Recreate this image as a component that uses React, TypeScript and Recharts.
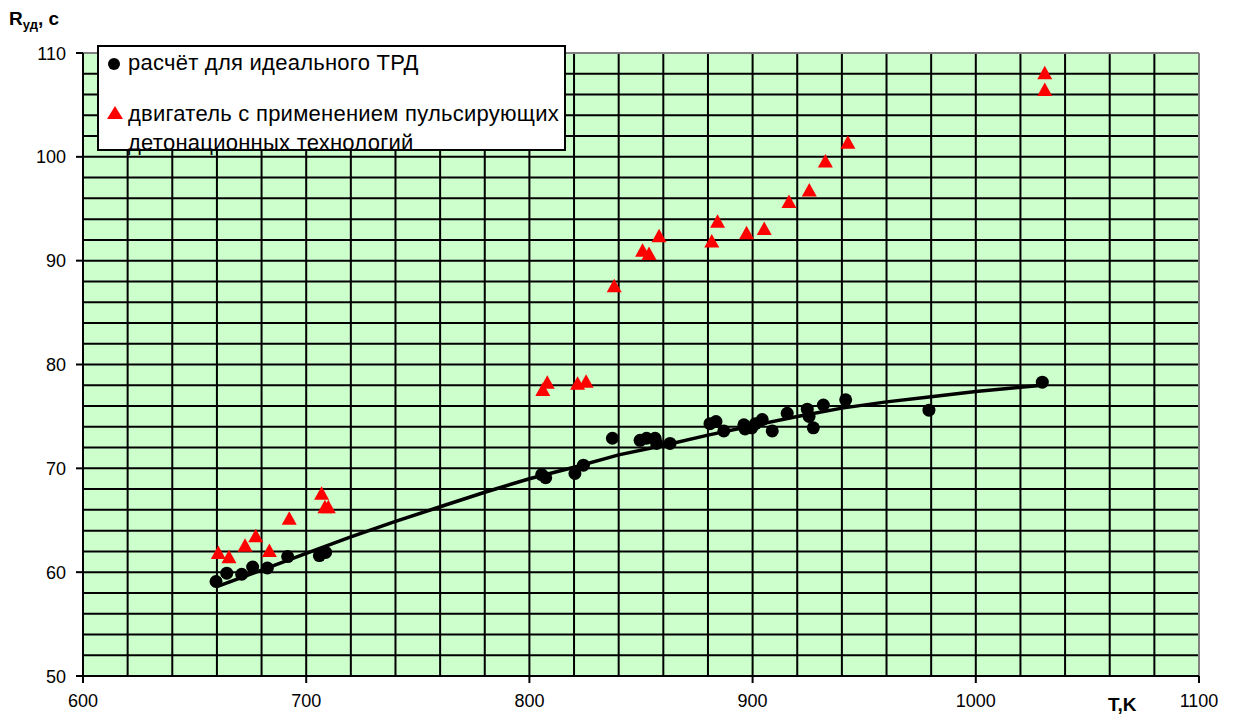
import React from "react";
import {
  ScatterChart,
  Scatter,
  XAxis,
  YAxis,
  CartesianGrid,
  ReferenceLine,
} from "recharts";

// расчёт для идеального ТРД
const idealT = [
  659.6, 664.4, 671.1, 676.0, 682.6, 691.7, 705.9, 708.7, 805.5, 807.3, 820.4,
  824.2, 837.2, 849.6, 852.5, 856.3, 857.0, 863.0, 880.9, 883.6, 887.1, 896.1,
  896.6, 899.6, 901.3, 904.3, 908.8, 915.5, 924.5, 925.3, 927.2, 931.7, 941.7,
  979.0, 1029.8,
];
const idealR = [
  59.1, 59.9, 59.8, 60.5, 60.4, 61.5, 61.6, 61.9, 69.4, 69.1, 69.5, 70.3, 72.9,
  72.7, 72.9, 72.9, 72.4, 72.4, 74.3, 74.5, 73.6, 74.2, 73.8, 73.9, 74.3, 74.7,
  73.6, 75.3, 75.7, 75.0, 73.9, 76.1, 76.6, 75.6, 78.3,
];

// двигатель с применением пульсирующих детонационных технологий
const pdeT = [
  660.6, 665.4, 672.6, 677.4, 683.5, 692.4, 706.9, 708.4, 709.9, 806.0, 808.0,
  821.6, 825.4, 838.0, 850.7, 853.6, 858.1, 881.7, 884.3, 897.3, 905.2, 916.3,
  925.4, 932.6, 942.7, 1030.9, 1030.9,
];
const pdeR = [
  61.8, 61.4, 62.5, 63.4, 62.0, 65.1, 67.5, 66.2, 66.2, 77.5, 78.2, 78.1, 78.3,
  87.5, 90.9, 90.6, 92.3, 91.8, 93.7, 92.6, 93.0, 95.6, 96.7, 99.5, 101.3,
  108.0, 106.4,
];

// trend line through the ideal points
const trendT = [
  660, 680, 700, 720, 740, 760, 780, 800, 820, 840, 860, 880, 900, 920, 940,
  960, 980, 1000, 1020, 1030,
];
const trendR = [
  58.6, 60.2, 61.8, 63.4, 64.9, 66.3, 67.7, 69.0, 70.1, 71.3, 72.2, 73.2, 74.1,
  75.0, 75.8, 76.4, 76.9, 77.4, 77.8, 78.0,
];

const xGridTicks = [
  600, 620, 640, 660, 680, 700, 720, 740, 760, 780, 800, 820, 840, 860, 880,
  900, 920, 940, 960, 980, 1000, 1020, 1040, 1060, 1080, 1100,
];
const yGridTicks = [
  50, 52, 54, 56, 58, 60, 62, 64, 66, 68, 70, 72, 74, 76, 78, 80, 82, 84, 86,
  88, 90, 92, 94, 96, 98, 100, 102, 104, 106, 108, 110,
];
const xLabels = [600, 700, 800, 900, 1000, 1100];
const yLabels = [50, 60, 70, 80, 90, 100, 110];

const legendLabels = [
  "расчёт для идеального ТРД",
  "двигатель с применением пульсирующих",
  "детонационных технологий",
];

const FONT = '"Liberation Sans", Arial, sans-serif';

const idealData = idealT.map((t, i) => ({ x: t, y: idealR[i] }));
const pdeData = pdeT.map((t, i) => ({ x: t, y: pdeR[i] }));
const trendData = trendT.map((t, i) => ({ x: t, y: trendR[i] }));

const Dot = (props: any) => (
  <circle cx={props.cx} cy={props.cy} r={6.5} fill="#000" />
);

const Triangle = (props: any) => {
  const { cx, cy } = props;
  return (
    <polygon
      points={`${cx},${cy - 8} ${cx - 7.5},${cy + 5.5} ${cx + 7.5},${cy + 5.5}`}
      fill="#ff0000"
    />
  );
};

const XTick = (props: any) => {
  const { x, y, payload } = props;
  if (!xLabels.includes(payload.value)) return <g />;
  return (
    <g>
      <line x1={x} y1={y} x2={x} y2={y + 7} stroke="#000" strokeWidth={2} />
      <text
        x={x}
        y={y + 31}
        textAnchor="middle"
        fontSize={18}
        fontFamily={FONT}
        fill="#000"
      >
        {payload.value}
      </text>
    </g>
  );
};

const YTick = (props: any) => {
  const { x, y, payload } = props;
  if (!yLabels.includes(payload.value)) return <g />;
  return (
    <g>
      <line x1={x - 7} y1={y} x2={x} y2={y} stroke="#000" strokeWidth={2} />
      <text
        x={x - 17}
        y={y + 6.5}
        textAnchor="end"
        fontSize={18}
        fontFamily={FONT}
        fill="#000"
      >
        {payload.value}
      </text>
    </g>
  );
};

export default function App() {
  return (
    <div
      style={{
        position: "absolute",
        left: 0,
        top: 0,
        width: 1238,
        height: 726,
        background: "#fff",
        fontFamily: FONT,
      }}
    >
      <ScatterChart
        width={1238}
        height={726}
        margin={{ top: 53, right: 39, bottom: 20, left: 23 }}
      >
        <CartesianGrid
          fill="#ccffcc"
          fillOpacity={1}
          stroke="#000"
          strokeWidth={2}
        />
        <XAxis
          type="number"
          dataKey="x"
          domain={[600, 1100]}
          ticks={xGridTicks}
          interval={0}
          allowDataOverflow
          axisLine={{ stroke: "#000", strokeWidth: 2 }}
          tickLine={false}
          tickSize={0}
          tickMargin={0}
          tick={<XTick />}
          height={30}
        />
        <YAxis
          type="number"
          dataKey="y"
          domain={[50, 110]}
          ticks={yGridTicks}
          interval={0}
          allowDataOverflow
          axisLine={{ stroke: "#000", strokeWidth: 2 }}
          tickLine={false}
          tickSize={0}
          tickMargin={0}
          tick={<YTick />}
          width={60}
        />
        <ReferenceLine y={110} stroke="#808080" strokeWidth={2} />
        <ReferenceLine x={1100} stroke="#808080" strokeWidth={2} />
        <Scatter
          data={trendData}
          line={{ stroke: "#000", strokeWidth: 3.5 }}
          shape={() => <g />}
          isAnimationActive={false}
        />
        <Scatter data={idealData} shape={<Dot />} isAnimationActive={false} />
        <Scatter data={pdeData} shape={<Triangle />} isAnimationActive={false} />
      </ScatterChart>

      {/* legend */}
      <div
        style={{
          position: "absolute",
          left: 97,
          top: 45,
          width: 465,
          height: 102,
          background: "#fff",
          border: "2px solid #000",
          fontSize: 22,
          letterSpacing: 0.25,
          color: "#000",
        }}
      >
        <svg
          style={{ position: "absolute", left: 8, top: 10 }}
          width={14}
          height={14}
        >
          <circle cx={7} cy={7} r={6} fill="#000" />
        </svg>
        <div style={{ position: "absolute", left: 29, top: 3, whiteSpace: "nowrap" }}>
          {legendLabels[0]}
        </div>
        <svg
          style={{ position: "absolute", left: 8, top: 59 }}
          width={16}
          height={14}
        >
          <polygon points="8,0 0,13 16,13" fill="#ff0000" />
        </svg>
        <div
          style={{
            position: "absolute",
            left: 29,
            top: 52,
            whiteSpace: "nowrap",
            lineHeight: "29px",
          }}
        >
          {legendLabels[1]}
          <br />
          {legendLabels[2]}
        </div>
      </div>

      {/* axis titles */}
      <div
        style={{
          position: "absolute",
          left: 9,
          top: 8,
          fontSize: 19,
          fontWeight: "bold",
          whiteSpace: "nowrap",
        }}
      >
        R<sub style={{ fontSize: 13, verticalAlign: "-4px" }}>уд</sub>, с
      </div>
      <div
        style={{
          position: "absolute",
          left: 1108,
          top: 694,
          fontSize: 19,
          fontWeight: "bold",
        }}
      >
        T,K
      </div>
    </div>
  );
}
